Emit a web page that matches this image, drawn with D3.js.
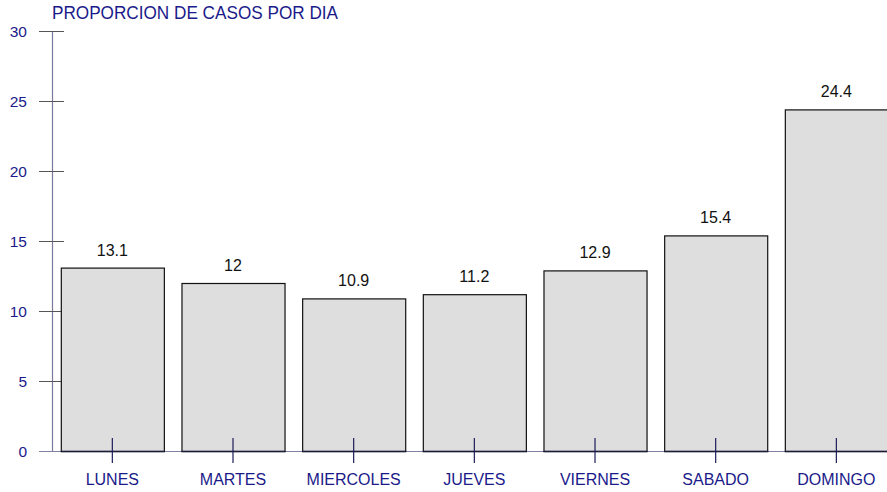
<!DOCTYPE html>
<html>
<head>
<meta charset="utf-8">
<script src="https://cdn.jsdelivr.net/npm/d3@7"></script>
<style>
  html, body { margin: 0; padding: 0; background: #fff; }
  svg { display: block; }
  text { font-family: "Liberation Sans", Arial, sans-serif; }
</style>
</head>
<body>
<script>
const categories = ["LUNES", "MARTES", "MIERCOLES", "JUEVES", "VIERNES", "SABADO", "DOMINGO"];
const values = [13.1, 12, 10.9, 11.2, 12.9, 15.4, 24.4];
const yTicks = [0, 5, 10, 15, 20, 25, 30];
const title = "PROPORCION DE CASOS POR DIA";

const W = 887, H = 492;
const svg = d3.select("body").append("svg").attr("width", W).attr("height", H);

const axisX = 52;
const step = 120.67;
const x = d3.scaleBand()
  .domain(categories)
  .range([axisX, axisX + step * 7])
  .paddingInner(0.146)
  .paddingOuter(0.073);

const y = d3.scaleLinear().domain([0, 30]).range([451, 31]);

const navy = "#1a1a8a";

// Title
svg.append("text")
  .attr("x", axisX)
  .attr("y", 19)
  .attr("font-size", 18)
  .attr("fill", navy)
  .attr("textLength", 286)
  .attr("lengthAdjust", "spacingAndGlyphs")
  .text(title);

// Y axis line
svg.append("line")
  .attr("x1", axisX + 0.5).attr("x2", axisX + 0.5)
  .attr("y1", y(30)).attr("y2", y(0))
  .attr("stroke", "#7a7a9e").attr("stroke-width", 1.2);

// Y ticks
const yAxis = d3.axisLeft(y).tickValues(yTicks).tickSize(0).tickFormat(d3.format("d"));
const gy = svg.append("g").attr("transform", `translate(${axisX},0)`).call(yAxis);
gy.select(".domain").remove();
gy.selectAll(".tick line").remove();
gy.selectAll(".tick").append("line")
  .attr("x1", -13).attr("x2", 12)
  .attr("stroke", "#555").attr("stroke-width", 1);
gy.selectAll(".tick text")
  .attr("x", -25)
  .attr("dy", "0.35em")
  .attr("font-size", 15.5)
  .attr("font-family", "Liberation Sans, Arial, sans-serif")
  .attr("fill", navy);

// baseline
svg.append("line")
  .attr("x1", axisX - 13).attr("x2", W)
  .attr("y1", y(0) + 0.5).attr("y2", y(0) + 0.5)
  .attr("stroke", "#8080a0").attr("stroke-width", 1.2);

// Bars
svg.append("g").selectAll("rect")
  .data(values)
  .join("rect")
  .attr("x", (d, i) => x(categories[i]) + 0.5)
  .attr("y", d => y(d) + 0.5)
  .attr("width", x.bandwidth())
  .attr("height", d => y(0) - y(d))
  .attr("fill", "#dedede")
  .attr("stroke", "#111")
  .attr("stroke-width", 1.2);

// bar bottom darker
svg.append("g").selectAll("line")
  .data(values)
  .join("line")
  .attr("x1", (d, i) => x(categories[i]))
  .attr("x2", (d, i) => x(categories[i]) + x.bandwidth() + 1)
  .attr("y1", y(0) + 0.5).attr("y2", y(0) + 0.5)
  .attr("stroke", "#1c1c3a").attr("stroke-width", 1.5);

// Value labels
svg.append("g").selectAll("text")
  .data(values)
  .join("text")
  .attr("x", (d, i) => x(categories[i]) + x.bandwidth() / 2)
  .attr("y", d => y(d) - 12)
  .attr("text-anchor", "middle")
  .attr("font-size", 16)
  .attr("fill", "#111")
  .text(d => d);

// X axis ticks and labels
const xAxis = d3.axisBottom(x).tickSize(0).tickPadding(0);
const gx = svg.append("g").attr("transform", `translate(0,${y(0)})`).call(xAxis);
gx.select(".domain").remove();
gx.selectAll(".tick line").remove();
gx.selectAll(".tick").append("line")
  .attr("y1", -13).attr("y2", 12)
  .attr("stroke", "#1c1c5a").attr("stroke-width", 1.2);
gx.selectAll(".tick text")
  .attr("y", 34)
  .attr("dy", 0)
  .attr("font-size", 16)
  .attr("font-family", "Liberation Sans, Arial, sans-serif")
  .attr("fill", navy);
</script>
</body>
</html>
